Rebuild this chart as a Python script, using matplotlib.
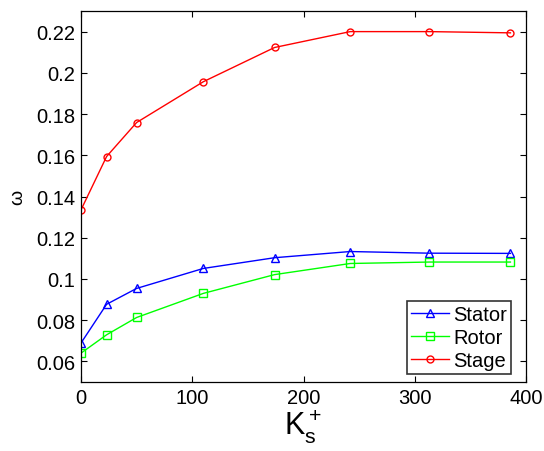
import matplotlib
matplotlib.use("Agg")
import matplotlib.pyplot as plt

plt.rcParams['font.family'] = ['Liberation Sans', 'DejaVu Sans']
plt.rcParams['mathtext.fontset'] = 'custom'
plt.rcParams['mathtext.rm'] = 'Liberation Sans'

ks = [0, 23, 50, 110, 174, 242, 313, 386]
stator = [0.0689, 0.0877, 0.0954, 0.1051, 0.1103, 0.1133, 0.1125, 0.1124]
rotor = [0.0640, 0.0729, 0.0813, 0.0930, 0.1021, 0.1075, 0.1082, 0.1082]
stage = [0.1335, 0.1594, 0.1759, 0.1957, 0.2123, 0.2200, 0.2200, 0.2194]
xticks = [0, 100, 200, 300, 400]
yticks = [0.06, 0.08, 0.1, 0.12, 0.14, 0.16, 0.18, 0.2, 0.22]
ytick_labels = ['0.06', '0.08', '0.1', '0.12', '0.14', '0.16', '0.18', '0.2', '0.22']

W, H = 544, 452
fig = plt.figure(figsize=(W/100, H/100), dpi=100)
L, R, T, B = 81, 526, 12, 383
ax = fig.add_axes([L/W, 1 - B/H, (R-L)/W, (B-T)/H])

ax.plot(ks, stator, color='#0000ff', marker='^', markersize=6, markerfacecolor='none', lw=1, label='Stator')
ax.plot(ks, rotor, color='#00ff00', marker='s', markersize=5.5, markerfacecolor='none', lw=1, label='Rotor')
ax.plot(ks, stage, color='#ff0000', marker='o', markersize=5, markerfacecolor='none', lw=1, label='Stage')

ax.set_xlim(0, 400)
ax.set_ylim(0.05, 0.23)
ax.set_xticks(xticks)
ax.set_yticks(yticks)
ax.set_yticklabels(ytick_labels)
ax.tick_params(direction='in', top=True, right=True, labelsize=14.5, length=4, width=0.8, pad=4)
for s in ax.spines.values():
    s.set_linewidth(0.9)

ax.set_ylabel('ω', fontsize=14, labelpad=7)
ax.set_xlabel(r'$\mathregular{K_s^+}$', fontsize=22, labelpad=0)

# legend box lower-right corner at pixel (511, 375)
leg = ax.legend(loc='lower right', bbox_to_anchor=((511-L)/(R-L), (B-375)/(B-T)),
                fontsize=14.5, frameon=True, fancybox=False,
                edgecolor='black', handlelength=1.9, handletextpad=0.2,
                labelspacing=0.2, borderpad=0.2, borderaxespad=0.0)
leg.get_frame().set_linewidth(1.2)

fig.savefig('out.png', dpi=100)
